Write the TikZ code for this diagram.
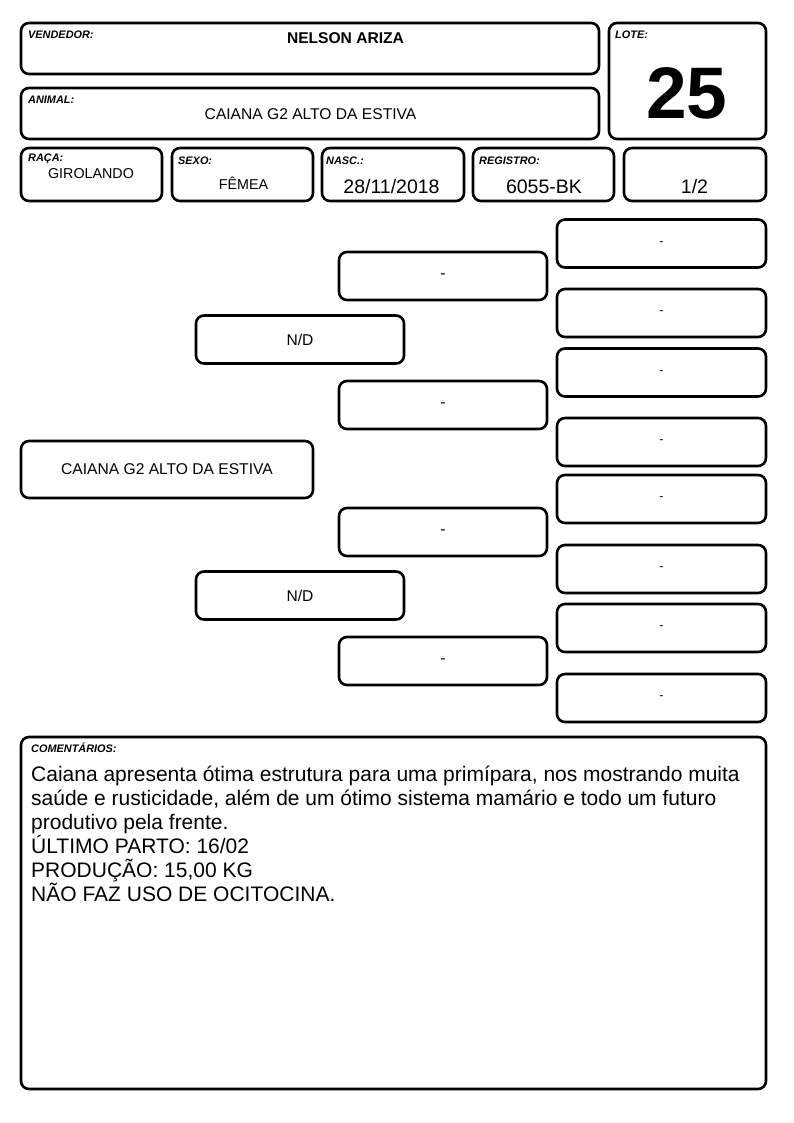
\documentclass[tikz,border=0pt]{standalone}
\usepackage{fontspec}
\setmainfont{Liberation Sans}
\begin{document}
\begin{tikzpicture}[x=1pt,y=-1pt,
  box/.style={draw=black, line width=2.6pt, rounded corners=8pt, inner sep=0pt, fill=white},
  lab/.style={font=\fontsize{10.9}{12}\selectfont\bfseries\itshape, inner sep=0pt, anchor=base west},
  val/.style={font=\fontsize{14.3}{16}\selectfont, inner sep=0pt, anchor=base},
  big/.style={font=\fontsize{19.5}{22}\selectfont, inner sep=0pt, anchor=base},
  ped/.style={box, font=\fontsize{15.6}{17}\selectfont, minimum width=208pt, minimum height=48pt},
  pedr/.style={box, font=\fontsize{12.5}{14}\selectfont, minimum width=209pt, minimum height=48pt},
  com/.style={font=\fontsize{21}{24}\selectfont, inner sep=0pt, anchor=base west}]
\useasboundingbox (0,0) rectangle (794,1123);
\fill[white] (0,0) rectangle (794,1123);
% header boxes
\node[box, minimum width=578pt, minimum height=51pt] (vend) at (310,48.5) {};
\node[box, minimum width=157pt, minimum height=116pt] (lote) at (687.5,81) {};
\node[box, minimum width=578pt, minimum height=51pt] (anim) at (310,113.5) {};
\node[box, minimum width=141pt, minimum height=53pt] (raca) at (91.5,174.5) {};
\node[box, minimum width=141pt, minimum height=53pt] (sexo) at (242.5,174.5) {};
\node[box, minimum width=142pt, minimum height=53pt] (nasc) at (393,174.5) {};
\node[box, minimum width=141pt, minimum height=53pt] (regi) at (543.5,174.5) {};
\node[box, minimum width=142pt, minimum height=53pt] (frac) at (695,174.5) {};
% labels
\node[lab] (lvend) at (28,39) {VENDEDOR:};
\node[lab] (llote) at (615,39) {LOTE:};
\node[lab] (lanim) at (28,103.7) {ANIMAL:};
\node[lab] (lraca) at (28,162) {RAÇA:};
\node[lab] (lsexo) at (178,165) {SEXO:};
\node[lab] (lnasc) at (326,165) {NASC.:};
\node[lab] (lregi) at (479,165) {REGISTRO:};
% values
\node[font=\fontsize{15.6}{18}\selectfont\bfseries, inner sep=0pt, anchor=base] (tvend) at (345.5,43.3) {NELSON ARIZA};
\node[font=\fontsize{73}{80}\selectfont\bfseries, inner sep=0pt, anchor=base] (tlote) at (686.7,119) {25};
\node[font=\fontsize{15.6}{18}\selectfont, inner sep=0pt, anchor=base] (tanim) at (310.5,119.3) {CAIANA G2 ALTO DA ESTIVA};
\node[val] (traca) at (91,178.3) {GIROLANDO};
\node[val] (tsexo) at (243.5,189.3) {FÊMEA};
\node[big] (tnasc) at (391.5,193.3) {28/11/2018};
\node[big] (tregi) at (544,193.3) {6055-BK};
\node[big] (tfrac) at (694.5,193.3) {1/2};
% pedigree
\node[box, font=\fontsize{15.6}{17}\selectfont, minimum width=292pt, minimum height=57pt] (p0) at (167,469.5) {CAIANA G2 ALTO DA ESTIVA};
\node[ped] (p1) at (300,339.5) {N/D};
\node[ped] (p2) at (300,595.5) {N/D};
\node[ped] (p3) at (443,276) {-};
\node[ped] (p4) at (443,405) {-};
\node[ped] (p5) at (443,532) {-};
\node[ped] (p6) at (443,661) {-};
\node[pedr] (p7) at (661.5,243.5) {-};
\node[pedr] (p8) at (661.5,313) {-};
\node[pedr] (p9) at (661.5,372.5) {-};
\node[pedr] (p10) at (661.5,442) {-};
\node[pedr] (p11) at (661.5,499) {-};
\node[pedr] (p12) at (661.5,569) {-};
\node[pedr] (p13) at (661.5,628) {-};
\node[pedr] (p14) at (661.5,698) {-};
% comments
\node[box, minimum width=745pt, minimum height=352pt] (coment) at (393.5,913) {};
\node[lab] (lcom) at (31,752) {COMENTÁRIOS:};
\node[com] (c1) at (31,781) {Caiana apresenta ótima estrutura para uma primípara, nos mostrando muita};
\node[com] (c2) at (31,805) {saúde e rusticidade, além de um ótimo sistema mamário e todo um futuro};
\node[com] (c3) at (31,829) {produtivo pela frente.};
\node[com] (c4) at (31,853) {ÚLTIMO PARTO: 16/02};
\node[com] (c5) at (31,877) {PRODUÇÃO: 15,00 KG};
\node[com] (c6) at (31,901) {NÃO FAZ USO DE OCITOCINA.};
\end{tikzpicture}
\end{document}
